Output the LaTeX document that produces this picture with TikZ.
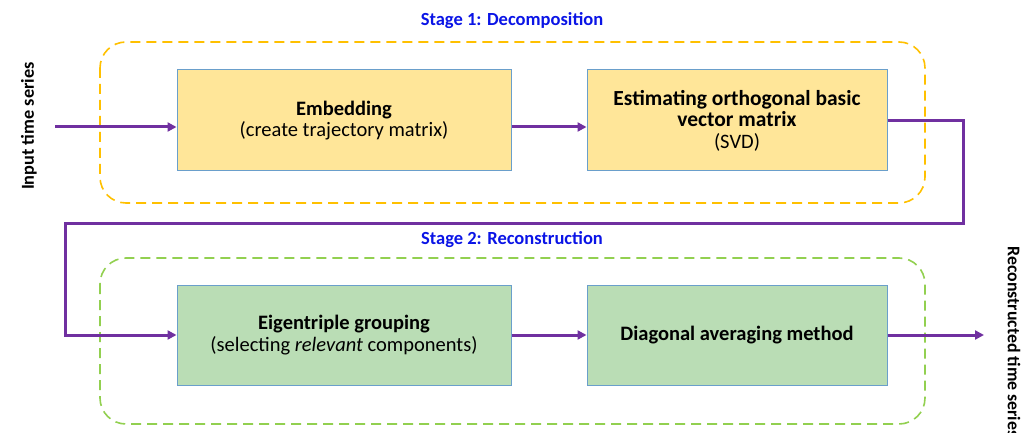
\documentclass[tikz,border=0pt]{standalone}
\usepackage{fontspec}
\setmainfont{Carlito}
\usetikzlibrary{arrows.meta,calc}
\definecolor{boxyellow}{HTML}{FFE699}
\definecolor{boxgreen}{HTML}{BADDB5}
\definecolor{boxedge}{HTML}{6A9FCB}
\definecolor{dashyellow}{HTML}{FFC000}
\definecolor{dashgreen}{HTML}{92D050}
\definecolor{flow}{HTML}{7030A0}
\definecolor{stageblue}{HTML}{0A14E6}
\begin{document}
\begin{tikzpicture}[x=1pt,y=-1pt,
  stagebox/.style={draw=boxedge,line width=1pt,align=center,font=\fontsize{20.5}{21.5}\selectfont,inner sep=2pt},
  container/.style={line width=1.6pt,dash pattern=on 10pt off 6pt,rounded corners=26pt},
  arr/.style={draw=flow,line width=3pt,-{Triangle[length=9pt,width=9pt]}},
  flowline/.style={draw=flow,line width=3pt},
  stagetitle/.style={text=stageblue,font=\fontsize{18.5}{20}\selectfont\bfseries},
  sidelabel/.style={font=\fontsize{18.3}{20}\selectfont\bfseries}]
\useasboundingbox (0,0) rectangle (1034,433);
% containers
\draw[container,draw=dashyellow] (100,42) rectangle (925,203);
\draw[container,draw=dashgreen] (100,258) rectangle (925,424);
% titles
\node[stagetitle] (t1) at (512,21) {Stage 1: Decomposition};
\node[stagetitle] (t2) at (512,240) {Stage 2: Reconstruction};
% boxes
\node[stagebox,fill=boxyellow,minimum width=334pt,minimum height=101pt] (emb) at (344,120.5)
  {\textbf{Embedding}\\(create trajectory matrix)};
\node[stagebox,fill=boxyellow,minimum width=300pt,minimum height=101pt] (est) at (737,120.5)
  {\textbf{\fontsize{21.5}{21.5}\selectfont Estimating orthogonal basic}\\\textbf{\fontsize{21.5}{21.5}\selectfont vector matrix}\\(SVD)};
\node[stagebox,fill=boxgreen,minimum width=334pt,minimum height=100pt] (eig) at (344,335)
  {\textbf{Eigentriple grouping}\\(selecting \textit{relevant} components)};
\node[stagebox,fill=boxgreen,minimum width=300pt,minimum height=100pt] (dia) at (737,335)
  {\textbf{Diagonal averaging method}};
% side labels
\node[sidelabel,rotate=90] (inlab) at (29,126) {Input time series};
\node[sidelabel,rotate=-90,anchor=west,font=\fontsize{17.8}{20}\selectfont\bfseries] (outlab) at (1014,243) {Reconstructed time series};
% connectors
\coordinate (in) at (55,127);
\coordinate (out) at (984,335);
\coordinate (r1) at (963,120.5);
\coordinate (r2) at (963,223);
\coordinate (l1) at (65,223);
\coordinate (l2) at (65,335);
\draw[arr] (in) -- ([yshift=-6.5pt]emb.west);
\draw[arr] ([yshift=-6.5pt]emb.east) -- ([yshift=-6.5pt]est.west);
\draw[flowline,-{Triangle[length=9pt,width=9pt]}] (est.east) -- (r1) -- (r2) -- (l1) -- (l2) -- (eig.west);
\draw[arr] (eig.east) -- (dia.west);
\draw[arr] (dia.east) -- (out);
\end{tikzpicture}
\end{document}
